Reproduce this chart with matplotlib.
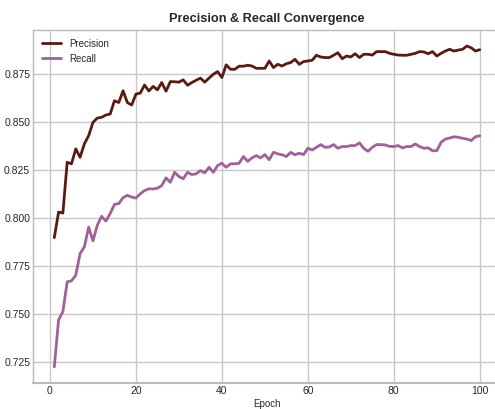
import matplotlib
matplotlib.use("Agg")
import matplotlib.pyplot as plt
import numpy as np

epochs = np.arange(1, 101)

precision = [
    0.7898, 0.8031, 0.8026, 0.8290, 0.8282, 0.8360, 0.8316, 0.8386, 0.8429, 0.8498,
    0.8520, 0.8524, 0.8536, 0.8541, 0.8610, 0.8601, 0.8662, 0.8601, 0.8588, 0.8645,
    0.8650, 0.8692, 0.8661, 0.8685, 0.8667, 0.8705, 0.8660, 0.8710, 0.8709, 0.8707,
    0.8719, 0.8691, 0.8705, 0.8717, 0.8728, 0.8707, 0.8728, 0.8748, 0.8762, 0.8731,
    0.8797, 0.8774, 0.8774, 0.8790, 0.8790, 0.8795, 0.8791, 0.8779, 0.8779, 0.8779,
    0.8817, 0.8783, 0.8800, 0.8791, 0.8803, 0.8809, 0.8826, 0.8800, 0.8814, 0.8817,
    0.8821, 0.8847, 0.8838, 0.8835, 0.8835, 0.8847, 0.8860, 0.8829, 0.8843, 0.8838,
    0.8855, 0.8835, 0.8852, 0.8852, 0.8848, 0.8866, 0.8866, 0.8866, 0.8857, 0.8852,
    0.8848, 0.8847, 0.8847, 0.8852, 0.8857, 0.8866, 0.8864, 0.8855, 0.8866, 0.8843,
    0.8857, 0.8869, 0.8878, 0.8869, 0.8874, 0.8878, 0.8895, 0.8886, 0.8869, 0.8876,
]

recall = [
    0.7225, 0.7470, 0.7513, 0.7668, 0.7673, 0.7703, 0.7815, 0.7850, 0.7953, 0.7881,
    0.7962, 0.8009, 0.7984, 0.8023, 0.8071, 0.8075, 0.8106, 0.8118, 0.8109, 0.8104,
    0.8126, 0.8143, 0.8152, 0.8151, 0.8155, 0.8169, 0.8209, 0.8186, 0.8238, 0.8216,
    0.8204, 0.8238, 0.8226, 0.8230, 0.8247, 0.8235, 0.8264, 0.8238, 0.8273, 0.8285,
    0.8264, 0.8282, 0.8282, 0.8285, 0.8320, 0.8295, 0.8313, 0.8325, 0.8313, 0.8330,
    0.8303, 0.8342, 0.8334, 0.8329, 0.8320, 0.8342, 0.8329, 0.8337, 0.8330, 0.8363,
    0.8354, 0.8368, 0.8382, 0.8368, 0.8370, 0.8382, 0.8363, 0.8372, 0.8372, 0.8377,
    0.8377, 0.8391, 0.8363, 0.8347, 0.8368, 0.8382, 0.8382, 0.8380, 0.8373, 0.8372,
    0.8377, 0.8365, 0.8372, 0.8372, 0.8385, 0.8372, 0.8363, 0.8365, 0.8350, 0.8350,
    0.8394, 0.8411, 0.8416, 0.8423, 0.8420, 0.8415, 0.8411, 0.8403, 0.8423, 0.8428,
]

plt.style.use("seaborn-v0_8-whitegrid")
plt.rcParams["font.family"] = ["Liberation Sans", "DejaVu Sans"]

fig = plt.figure(figsize=(4.95, 4.09), dpi=100)
ax = fig.add_axes([0.0667, 0.0636, 0.9455, 0.8631])

ax.plot(epochs, precision, color="#5a1a12", linewidth=2, label="Precision")
ax.plot(epochs, recall, color="#a0609a", linewidth=2, label="Recall")

ax.set_xticks([0, 20, 40, 60, 80, 100])
ax.set_yticks([0.725, 0.750, 0.775, 0.800, 0.825, 0.850, 0.875])
ax.tick_params(labelsize=7.5, pad=2)
ax.grid(color="#c8c8c8", linewidth=1)
for side in ["left", "bottom", "top"]:
    ax.spines[side].set_visible(True)
    ax.spines[side].set_color("#bbbbbb")
    ax.spines[side].set_linewidth(1)
ax.spines["bottom"].set_linewidth(1.5)

ax.set_xlabel("Epoch", fontsize=7, labelpad=2)
ax.set_title("Precision & Recall Convergence", fontsize=9.2, fontweight="bold", pad=6)
ax.legend(loc="upper left", fontsize=7, frameon=False)

fig.savefig("out.png", dpi=100)
